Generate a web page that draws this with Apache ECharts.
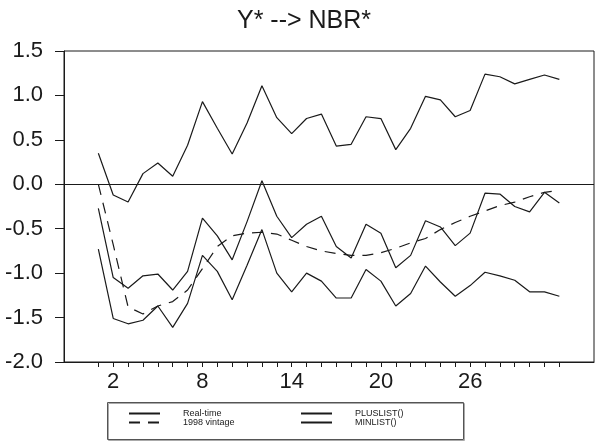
<!DOCTYPE html>
<html>
<head>
<meta charset="utf-8">
<script src="https://cdn.jsdelivr.net/npm/echarts@6/dist/echarts.min.js"></script>
<style>
  html, body { margin: 0; padding: 0; background: #fff; }
  #chart { width: 597px; height: 447px; }
</style>
</head>
<body>
<div id="chart"></div>
<script>
// horizon 1..32
const periods = [1, 2, 3, 4, 5, 6, 7, 8, 9, 10, 11, 12, 13, 14, 15, 16,
  17, 18, 19, 20, 21, 22, 23, 24, 25, 26, 27, 28, 29, 30, 31, 32]
const xLabels = [2, 8, 14, 20, 26]

const realTime = [-0.27, -1.05, -1.17, -1.03, -1.01, -1.19, -0.98, -0.38, -0.58, -0.85,
  -0.42, 0.04, -0.36, -0.60, -0.45, -0.36, -0.70, -0.83, -0.45, -0.55,
  -0.94, -0.80, -0.41, -0.48, -0.69, -0.55, -0.10, -0.11, -0.25, -0.31, -0.09, -0.21]

const vintage1998 = [0.00, -0.68, -1.38, -1.46, -1.37, -1.32, -1.19, -0.95, -0.70, -0.58,
  -0.55, -0.54, -0.56, -0.63, -0.70, -0.75, -0.78, -0.80, -0.80, -0.77,
  -0.72, -0.66, -0.61, -0.51, -0.43, -0.36, -0.30, -0.24, -0.20, -0.14, -0.09, -0.07]

const plusList = [0.35, -0.12, -0.20, 0.12, 0.24, 0.09, 0.44, 0.93, 0.63, 0.34,
  0.69, 1.11, 0.75, 0.57, 0.74, 0.79, 0.43, 0.45, 0.76, 0.74,
  0.39, 0.63, 0.99, 0.95, 0.76, 0.83, 1.24, 1.21, 1.13, 1.18, 1.23, 1.18]

const minList = [-0.73, -1.51, -1.57, -1.53, -1.37, -1.61, -1.34, -0.80, -0.98, -1.30,
  -0.91, -0.51, -1.00, -1.21, -1.00, -1.09, -1.28, -1.28, -0.96, -1.09,
  -1.37, -1.23, -0.92, -1.10, -1.26, -1.14, -0.99, -1.03, -1.08, -1.21, -1.21, -1.26]

const font = 'Liberation Sans, Arial, sans-serif'
const ink = '#1a1a1a'

const pairs = vals => periods.map((p, i) => [p, vals[i]])

function lineSeries(name, vals, dashed) {
  return {
    name,
    type: 'line',
    data: pairs(vals),
    showSymbol: false,
    symbol: 'none',
    silent: true,
    lineStyle: { color: ink, width: 1.2, type: dashed ? [11, 8] : 'solid' },
    itemStyle: { color: ink }
  }
}

function legendCol(names, left) {
  return {
    data: names,
    orient: 'vertical',
    left,
    top: 409,
    padding: 0,
    itemGap: 0,
    itemWidth: 31,
    itemHeight: 10,
    selectedMode: false,
    itemStyle: { opacity: 0 },
    textStyle: { fontSize: 9, color: ink, fontFamily: font, padding: [0, 0, 0, 18] }
  }
}

const chart = echarts.init(document.getElementById('chart'))
const series = [
  lineSeries('Real-time', realTime, false),
  lineSeries('1998 vintage', vintage1998, true),
  lineSeries('PLUSLIST()', plusList, false),
  lineSeries('MINLIST()', minList, false)
]
// zero reference line
series[0].markLine = {
  silent: true,
  symbol: 'none',
  label: { show: false },
  lineStyle: { color: ink, width: 1.2, type: 'solid' },
  data: [{ yAxis: 0 }]
}

chart.setOption({
  animation: false,
  textStyle: { fontFamily: font },
  title: {
    text: 'Y* --> NBR*',
    left: 232,
    top: 4,
    textStyle: { fontFamily: font, fontSize: 25, fontWeight: 'normal', color: ink }
  },
  grid: {
    left: 64, right: 3, top: 51, bottom: 85,
    show: true, borderColor: ink, borderWidth: 1
  },
  xAxis: {
    type: 'value',
    min: -1.31,
    max: 34.33,
    axisLine: { show: true, onZero: false, lineStyle: { color: ink } },
    axisTick: { show: true, length: 5, customValues: periods, lineStyle: { color: ink } },
    axisLabel: { customValues: xLabels, fontSize: 22, color: ink, margin: 9, fontFamily: font },
    splitLine: { show: false }
  },
  yAxis: {
    type: 'value',
    min: -2,
    max: 1.5,
    interval: 0.5,
    axisLine: { show: true, onZero: false, lineStyle: { color: ink } },
    axisTick: { show: true, length: 9, lineStyle: { color: ink } },
    axisLabel: {
      fontSize: 22, color: ink, margin: 21, fontFamily: font,
      formatter: v => v.toFixed(1)
    },
    splitLine: { show: false }
  },
  legend: [
    legendCol(['Real-time', '1998 vintage'], 128),
    legendCol(['PLUSLIST()', 'MINLIST()'], 300)
  ],
  graphic: [{
    type: 'rect',
    left: 105,
    top: 400,
    shape: { width: 356, height: 37 },
    style: { fill: 'none', stroke: '#555', lineWidth: 1, shadowColor: '#aaa', shadowOffsetX: 1, shadowOffsetY: 1 },
    silent: true
  }],
  series
})
</script>
</body>
</html>
